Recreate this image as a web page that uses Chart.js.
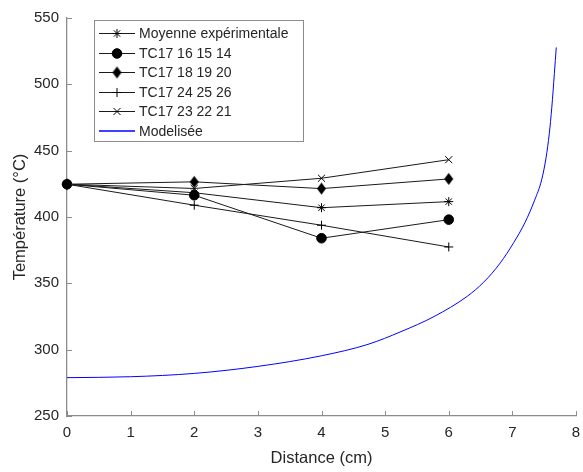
<!DOCTYPE html>
<html>
<head>
<meta charset="utf-8">
<script src="https://cdn.jsdelivr.net/npm/chart.js@4.4.0/dist/chart.umd.min.js"></script>
<style>
html, body { margin: 0; padding: 0; background: #fff; }
</style>
</head>
<body>
<canvas id="myChart" width="583" height="472"></canvas>
<script>
// data
var distances = [0, 2, 4, 6];
var moyenne = [424.7, 418.3, 407.0, 411.6];
var tc16 = [424.7, 416.4, 384.0, 398.0];
var tc18 = [424.7, 426.5, 421.4, 428.7];
var tc24 = [424.7, 408.9, 393.8, 377.4];
var tc23 = [424.7, 421.5, 429.2, 443.2];
var modelX = [0, 1, 2, 3, 4, 4.73, 5.25, 5.77, 6.29, 6.55, 6.81, 7.02, 7.2, 7.35, 7.46, 7.53, 7.58, 7.62, 7.66, 7.69];
var modelY = [278.9, 279.6, 282.1, 287.4, 295.4, 304, 313.6, 325, 340.2, 350.9, 365.4, 380.6, 396, 412.7, 428, 444.9, 462.7, 482.8, 508.1, 527.8];
var seriesLabels = ['Moyenne expérimentale', 'TC17 16 15 14', 'TC17 18 19 20', 'TC17 24 25 26', 'TC17 23 22 21', 'Modelisée'];
var xTicks = [0, 1, 2, 3, 4, 5, 6, 7, 8];
var yTicks = [250, 300, 350, 400, 450, 500, 550];

var textColor = '#262626';
var axisColor = '#8c8c8c';
var expColor = '#1a1a1a';
var modelColor = '#0000ff';
Chart.defaults.font.family = '"Liberation Sans", Arial, sans-serif';

function makeDiamond(w, h) {
    var c = document.createElement('canvas');
    c.width = w + 2;
    c.height = h + 2;
    var g = c.getContext('2d');
    g.fillStyle = '#000';
    g.beginPath();
    g.moveTo(c.width / 2, 1);
    g.lineTo(c.width - 1, c.height / 2);
    g.lineTo(c.width / 2, c.height - 1);
    g.lineTo(1, c.height / 2);
    g.closePath();
    g.fill();
    return c;
}
var diamond = makeDiamond(9, 12);

function pts(xs, ys) {
    return xs.map(function(x, i) { return { x: x, y: ys[i] }; });
}

function expSet(label, values, style, radius) {
    return {
        label: label,
        data: pts(distances, values),
        showLine: true,
        borderColor: expColor,
        borderWidth: 1,
        pointStyle: style,
        pointRadius: radius,
        pointHoverRadius: radius,
        pointBackgroundColor: '#000',
        pointBorderColor: '#000',
        pointBorderWidth: 1,
        clip: false
    };
}

// MATLAB style ticks pointing inside
var innerTicks = {
    id: 'innerTicks',
    beforeDatasetsDraw: function(chart) {
        var c = chart.ctx, a = chart.chartArea;
        var xs = chart.scales.x, ys = chart.scales.y;
        c.save();
        c.strokeStyle = axisColor;
        c.lineWidth = 1;
        c.beginPath();
        xTicks.forEach(function(t) {
            var px = Math.round(xs.getPixelForValue(t)) + 0.5;
            c.moveTo(px, a.bottom);
            c.lineTo(px, a.bottom - 5);
        });
        yTicks.forEach(function(t) {
            var py = Math.round(ys.getPixelForValue(t)) + 0.5;
            c.moveTo(a.left, py);
            c.lineTo(a.left + 5, py);
        });
        c.stroke();
        c.restore();
    }
};

var boxLegend = {
    id: 'boxLegend',
    afterDraw: function(chart) {
        var c = chart.ctx;
        c.save();
        c.fillStyle = '#fff';
        c.fillRect(94, 20, 209, 121);
        c.strokeStyle = axisColor;
        c.lineWidth = 1;
        c.strokeRect(94.5, 20.5, 209, 121);
        chart.data.datasets.forEach(function(ds, i) {
            var y = Math.round(33 + i * 19.6) + 0.5;
            var isModel = i === chart.data.datasets.length - 1;
            c.strokeStyle = isModel ? modelColor : expColor;
            c.lineWidth = isModel ? 1.4 : 1;
            c.beginPath();
            c.moveTo(99, isModel ? y - 0.5 : y);
            c.lineTo(135, isModel ? y - 0.5 : y);
            c.stroke();
            if (!isModel) {
                c.fillStyle = '#000';
                c.strokeStyle = '#000';
                c.lineWidth = 1;
                Chart.helpers.drawPoint(c, { pointStyle: ds.pointStyle, radius: ds.pointRadius, rotation: 0, borderWidth: 1 }, 117, y);
            }
            c.fillStyle = textColor;
            c.font = '14px "Liberation Sans", Arial, sans-serif';
            c.textBaseline = 'middle';
            c.fillText(seriesLabels[i], 139, y + 1);
        });
        c.restore();
    }
};

var ctx = document.getElementById('myChart').getContext('2d');
var myChart = new Chart(ctx, {
    type: 'scatter',
    data: {
        datasets: [
            expSet(seriesLabels[0], moyenne, 'star', 4.5),
            expSet(seriesLabels[1], tc16, 'circle', 4.8),
            expSet(seriesLabels[2], tc18, diamond, 6),
            expSet(seriesLabels[3], tc24, 'cross', 4.5),
            expSet(seriesLabels[4], tc23, 'crossRot', 5),
            {
                label: seriesLabels[5],
                data: pts(modelX, modelY),
                showLine: true,
                borderColor: modelColor,
                borderWidth: 1,
                pointRadius: 0,
                cubicInterpolationMode: 'monotone',
                clip: false
            }
        ]
    },
    options: {
        responsive: false,
        animation: false,
        events: [],
        layout: { padding: { top: 18, right: 6, left: 0, bottom: 0 } },
        plugins: { legend: { display: false }, tooltip: { enabled: false } },
        scales: {
            x: {
                type: 'linear',
                min: 0,
                max: 8,
                afterBuildTicks: function(s) { s.ticks = xTicks.map(function(v) { return { value: v }; }); },
                afterFit: function(s) { s.height = 56; s.paddingLeft = 0; s.paddingRight = 0; },
                ticks: { color: textColor, font: { size: 15 }, padding: 8, maxRotation: 0 },
                grid: { drawOnChartArea: false, drawTicks: false },
                border: { color: axisColor, width: 1.3 },
                title: { display: true, text: 'Distance (cm)', color: textColor, font: { size: 16.5 }, padding: { top: 0, bottom: 4 } }
            },
            y: {
                type: 'linear',
                min: 250,
                max: 550,
                afterBuildTicks: function(s) { s.ticks = yTicks.map(function(v) { return { value: v }; }); },
                afterFit: function(s) { s.width = 67; s.paddingTop = 0; s.paddingBottom = 0; },
                ticks: { color: textColor, font: { size: 15 }, padding: 8 },
                grid: { drawOnChartArea: false, drawTicks: false },
                border: { color: axisColor, width: 1.3 },
                title: { display: true, text: 'Température (°C)', color: textColor, font: { size: 16.5 }, padding: { top: 11, bottom: 0 } }
            }
        }
    },
    plugins: [innerTicks, boxLegend]
});
</script>
</body>
</html>
